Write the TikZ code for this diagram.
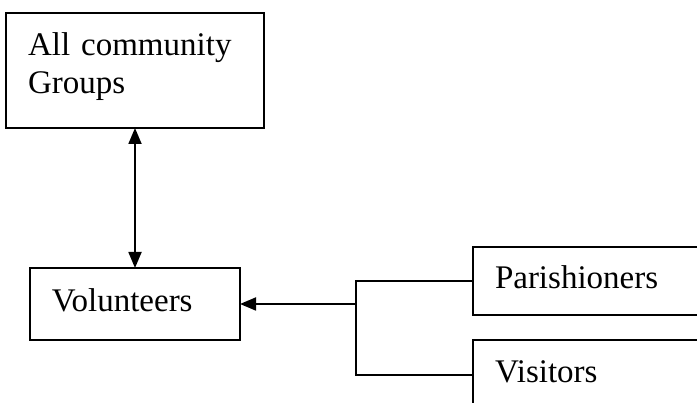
\documentclass[tikz,border=0pt]{standalone}
\usepackage{fontspec}
\setmainfont{Liberation Serif}
\usetikzlibrary{arrows.meta}

\begin{document}
\begin{tikzpicture}[x=1pt,y=-1pt,line width=1.8pt,>={Triangle[length=16pt,width=13pt]},
  box/.style={draw,anchor=north west,outer sep=0pt,inner xsep=22pt,inner ysep=0pt,align=left,font=\fontsize{33}{38}\selectfont},
  oneline/.style={text height=22pt,text depth=7pt}]
\clip (0,0) rectangle (697,403);
\node[box,minimum height=115pt,text width=214pt,text depth=52pt] (groups) at (6,13) {All community\\Groups};
\node[box,oneline,minimum height=72pt,text width=166pt] (vol) at (30,268) {Volunteers};
\node[box,oneline,minimum height=68pt,text width=206pt] (par) at (473,247) {Parishioners};
\node[box,oneline,minimum height=70pt,text width=206pt] (vis) at (473,340) {Visitors};
\coordinate (split) at (356,304);
\draw[<->] (groups.south) -- (vol.north);
\draw[->] (split) -- (vol.east);
\draw (par.west) -| (split) |- (vis.west);
\end{tikzpicture}
\end{document}
